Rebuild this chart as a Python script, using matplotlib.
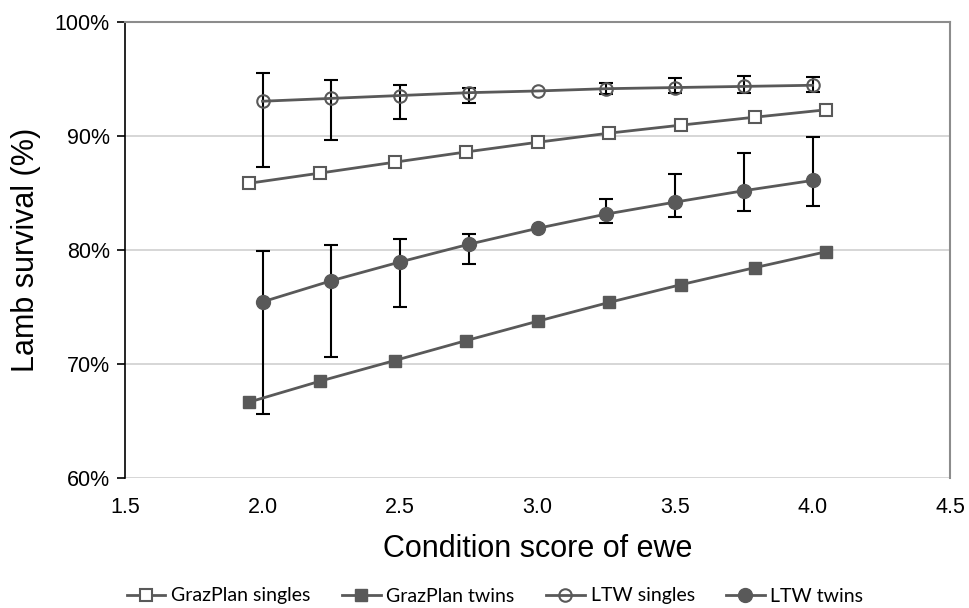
import matplotlib.pyplot as plt
from matplotlib.ticker import FuncFormatter

# condition score (x) for each series
graz_x = [1.95, 2.21, 2.48, 2.74, 3.0, 3.26, 3.52, 3.79, 4.05]
ltw_x = [2.0, 2.25, 2.5, 2.75, 3.0, 3.25, 3.5, 3.75, 4.0]

# survival in %
graz_singles = [85.85, 86.75, 87.7, 88.6, 89.45, 90.25, 90.95, 91.65, 92.3]
graz_twins = [66.65, 68.5, 70.3, 72.05, 73.75, 75.4, 76.95, 78.45, 79.85]
ltw_singles = [93.05, 93.3, 93.55, 93.8, 93.95, 94.15, 94.25, 94.35, 94.45]
ltw_twins = [75.45, 77.3, 78.95, 80.5, 81.9, 83.15, 84.2, 85.2, 86.1]

# error bar ends (None where no bar)
ltw_singles_lo = [87.3, 89.65, 91.5, 92.9, None, 93.65, 93.75, 93.75, 93.85]
ltw_singles_hi = [95.5, 94.9, 94.5, 94.25, None, 94.65, 95.1, 95.3, 95.2]
ltw_twins_lo = [65.6, 70.65, 75.0, 78.75, None, 82.4, 82.9, 83.4, 83.9]
ltw_twins_hi = [79.95, 80.4, 81.0, 81.4, None, 84.5, 86.7, 88.5, 89.9]

GRAA = "#595959"


def feil(midt, lav, hoy):
    ned = [m - l for m, l in zip(midt, lav)]
    opp = [h - m for m, h in zip(midt, hoy)]
    return [ned, opp]


fig = plt.figure(figsize=(9.69, 6.08), dpi=100)
ax = fig.add_axes([125 / 969, 130 / 608, 825 / 969, 456 / 608])

# error bars first (black), lines on top
for x, y, lo, hi in [(ltw_x, ltw_singles, ltw_singles_lo, ltw_singles_hi),
                     (ltw_x, ltw_twins, ltw_twins_lo, ltw_twins_hi)]:
    xs = [a for a, l in zip(x, lo) if l is not None]
    ys = [b for b, l in zip(y, lo) if l is not None]
    l2 = [l for l in lo if l is not None]
    h2 = [h for h in hi if h is not None]
    ax.errorbar(xs, ys, yerr=feil(ys, l2, h2), fmt="none", ecolor="black",
                elinewidth=1.5, capsize=5, capthick=1.5, zorder=2)

ax.plot(graz_x, graz_singles, color=GRAA, lw=2, marker="s", ms=8.5,
        mfc="white", mec=GRAA, mew=1.5, label="GrazPlan singles", zorder=3)
ax.plot(graz_x, graz_twins, color=GRAA, lw=2, marker="s", ms=8.5,
        mfc=GRAA, mec=GRAA, label="GrazPlan twins", zorder=3)
ax.plot(ltw_x, ltw_singles, color=GRAA, lw=2, marker="o", ms=9,
        mfc="none", mec=GRAA, mew=1.5, label="LTW singles", zorder=3)
ax.plot(ltw_x, ltw_twins, color=GRAA, lw=2, marker="o", ms=10,
        mfc=GRAA, mec=GRAA, label="LTW twins", zorder=3)

ax.set_xlim(1.5, 4.5)
ax.set_ylim(60, 100)
ax.set_xticks([1.5, 2.0, 2.5, 3.0, 3.5, 4.0, 4.5])
ax.set_yticks([60, 70, 80, 90, 100])
ax.xaxis.set_major_formatter(FuncFormatter(lambda v, p: f"{v:.1f}"))
ax.yaxis.set_major_formatter(FuncFormatter(lambda v, p: f"{v:.0f}%"))
ax.grid(axis="y", color="#d0d0d0", lw=1.2, zorder=0)
ax.set_axisbelow(True)

for s in ["top", "right"]:
    ax.spines[s].set_color("#8c8c8c")
    ax.spines[s].set_linewidth(1.5)
ax.spines["left"].set_color("black")
ax.spines["left"].set_linewidth(1.2)
ax.spines["bottom"].set_visible(False)

ax.tick_params(axis="y", length=6, width=1.2, labelsize=15.5, pad=5)
ax.tick_params(axis="x", length=0, labelsize=15.5, pad=14)
for t in ax.get_xticklabels() + ax.get_yticklabels():
    t.set_fontfamily("Liberation Sans")

ax.set_xlabel("Condition score of ewe", fontsize=22, family="Liberation Sans", labelpad=11)
ax.set_ylabel("Lamb survival (%)", fontsize=22, family="Liberation Sans", labelpad=10)

fig.legend(loc="center", bbox_to_anchor=(495 / 969, 1 - 596 / 608), ncol=4,
           frameon=False, prop={"family": "Lato", "size": 14},
           handlelength=2.0, columnspacing=1.6, handletextpad=0.3)

fig.savefig("out.png", dpi=100)
